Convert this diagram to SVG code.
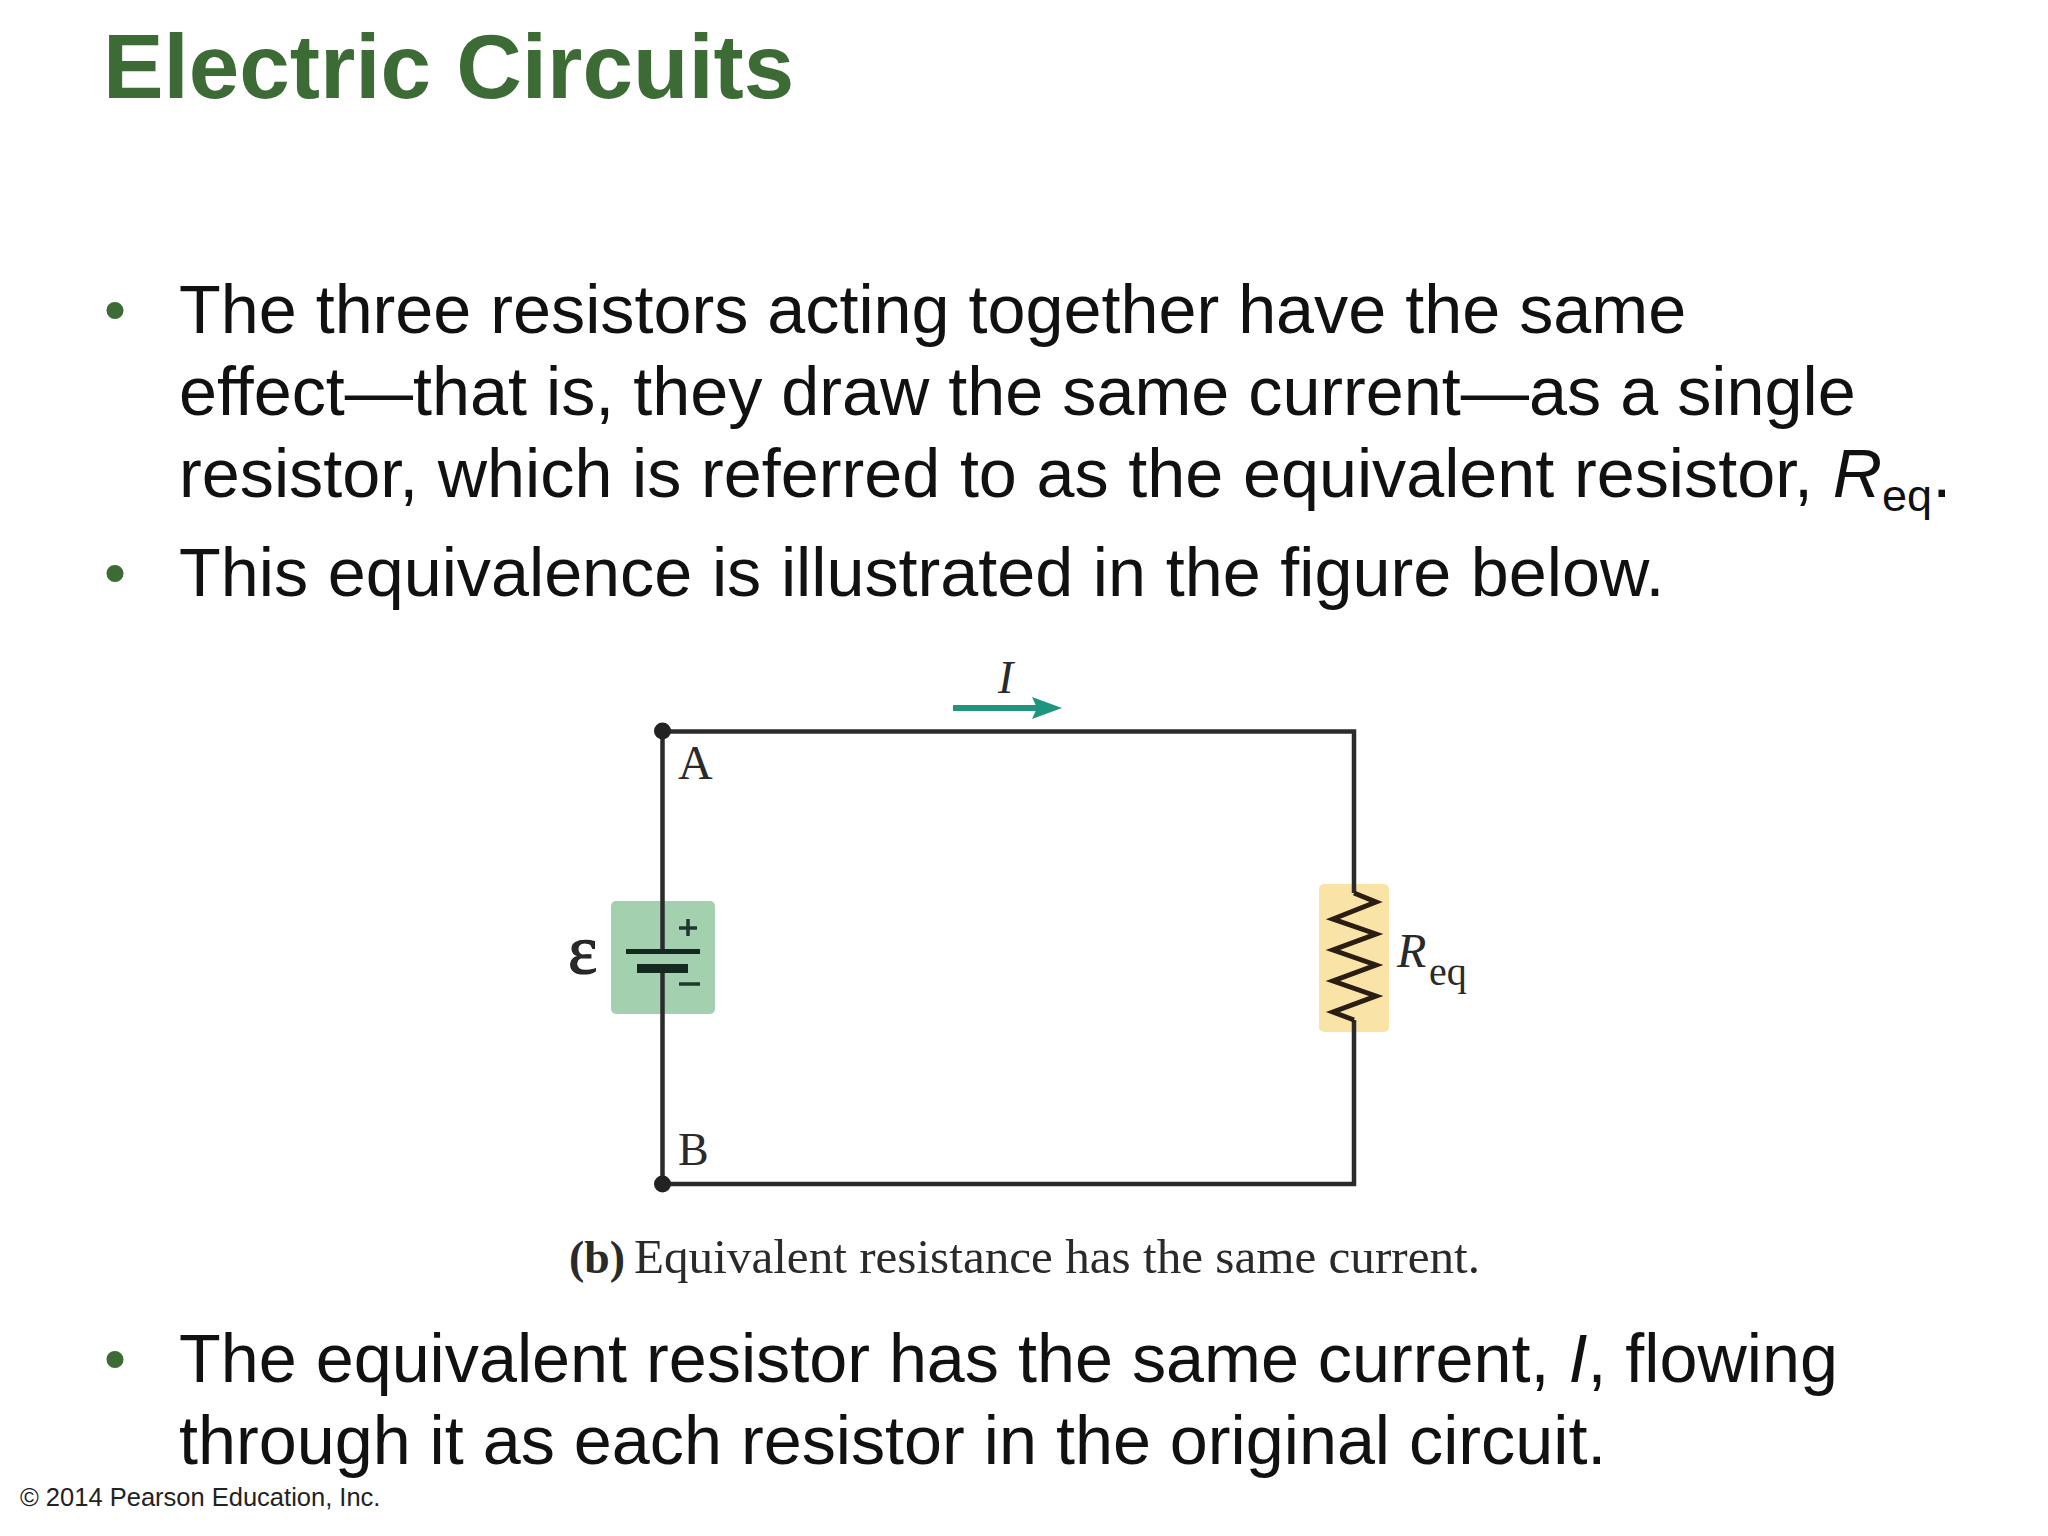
<svg xmlns="http://www.w3.org/2000/svg" width="2048" height="1536" viewBox="0 0 2048 1536">
<style>
.b{font-family:"Liberation Sans",Arial,sans-serif;font-size:68.300px;fill:#111}
.d{fill:#3d6b35;font-size:63px}
.ws{word-spacing:.7px}
.s{font-family:"Liberation Serif","Times New Roman",serif;fill:#2a2a2a}
.w{fill:none;stroke:#2b2b2b;stroke-width:4.500}
</style>
<rect width="2048" height="1536" fill="#fff"/>
<text id="title" x="103" y="97.500" font-family="Liberation Sans,Arial,sans-serif" font-weight="700" font-size="90.800" fill="#3d6b35">Electric Circuits</text>
<g id="bullets-top">
<text class="b d" x="104" y="331">•</text>
<text class="b" x="179" y="332.500">The three resistors acting together have the same</text>
<text class="b" x="179" y="414.500">effect—that is, they draw the same current—as a single</text>
<text class="b ws" x="179" y="496.500">resistor, which is referred to as the equivalent resistor, <tspan font-style="italic">R</tspan><tspan font-size="45" dy="14">eq</tspan><tspan dy="-14">.</tspan></text>
<text class="b d" x="104" y="594">•</text>
<text class="b ws" x="179" y="595.500">This equivalence is illustrated in the figure below.</text>
</g>
<g id="battery-bg"><rect x="611" y="901" width="104" height="113" rx="5" fill="#a3d1b0"/></g>
<g id="resistor-bg"><rect x="1319" y="884" width="70" height="148" rx="5" fill="#fae3a6"/></g>
<g id="connectors">
<path class="w" d="M662.500 951V731.500H1354V893M1354 1020V1184H662.500V968"/>
<path d="M953 708H1048" stroke="#1f9580" stroke-width="6" fill="none"/>
<path d="M1032 697L1062 708L1032 719L1037 708Z" fill="#1f9580"/>
</g>
<g id="node-a"><circle cx="662.500" cy="731" r="8.500" fill="#222"/><text class="s" x="678" y="779" font-size="48">A</text></g>
<g id="node-b"><circle cx="662.500" cy="1184" r="8.500" fill="#222"/><text class="s" x="678" y="1165" font-size="46">B</text></g>
<g id="battery">
<rect x="626" y="949" width="74" height="5" fill="#16291e"/>
<rect x="637" y="964" width="51" height="9" fill="#16291e"/>
<path d="M688 919V936M679 928H697M679 984H700" stroke="#1c3a2a" stroke-width="3.500" fill="none"/>
<text class="s" x="568" y="973" font-size="70" stroke="#222" stroke-width="1.200" fill="#222">ε</text>
</g>
<g id="resistor">
<path d="M1354 893L1376 902L1333 919L1376 934L1333 950L1376 965L1333 981L1376 996L1333 1012L1354 1020" fill="none" stroke="#2a1d14" stroke-width="5"/>
<text class="s" x="1397" y="967" font-size="48" font-style="italic">R</text>
<text class="s" x="1429" y="985" font-size="40">eq</text>
</g>
<g id="current-label"><text class="s" x="998" y="693" font-size="46" font-style="italic">I</text></g>
<g id="caption">
<text class="s" x="569" y="1273" font-size="47" font-weight="700" textLength="56" lengthAdjust="spacingAndGlyphs">(b)</text>
<text class="s" x="634" y="1273" font-size="48" textLength="846" lengthAdjust="spacingAndGlyphs">Equivalent resistance has the same current.</text>
</g>
<g id="bullets-bottom">
<text class="b d" x="104" y="1380">•</text>
<text class="b" x="179" y="1381.500">The equivalent resistor has the same current, <tspan font-style="italic">I</tspan>, flowing</text>
<text class="b" x="179" y="1463.500">through it as each resistor in the original circuit.</text>
</g>
<text id="copyright" x="20" y="1506" font-family="Liberation Sans,Arial,sans-serif" font-size="25.500" fill="#222">© 2014 Pearson Education, Inc.</text>
</svg>
